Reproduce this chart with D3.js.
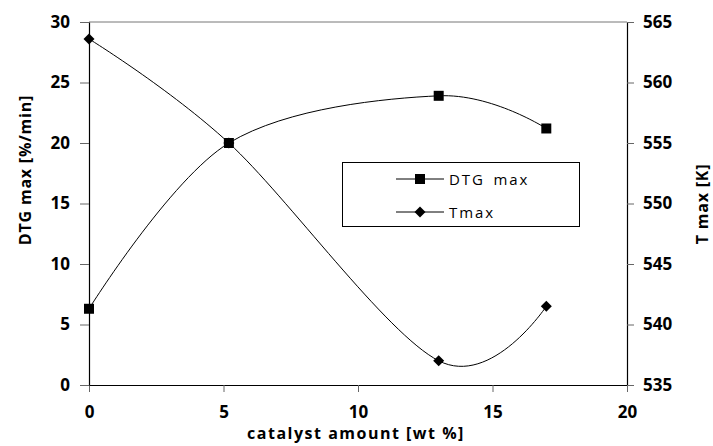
<!DOCTYPE html>
<html><head><meta charset="utf-8">
<script src="https://cdn.jsdelivr.net/npm/d3@7"></script>
<style>body{margin:0;background:#fff}svg{display:block}text{font-family:"Open Sans","Noto Sans",sans-serif}</style>
</head><body><svg id="c" width="713" height="446"></svg>
<script>
const catalyst = [0, 5.2, 13, 17];
const dtgMax = [6.3, 20.0, 23.9, 21.2];
const tMax = [563.6, 555.0, 537.0, 541.5];
const xTicks = [0, 5, 10, 15, 20];
const yLeftTicks = [0, 5, 10, 15, 20, 25, 30];
const yRightTicks = [535, 540, 545, 550, 555, 560, 565];
const seriesNames = ["DTG max", "Tmax"];

const svg = d3.select("#c");
const L = 89, R = 627, T = 22, B = 385;
const x = d3.scaleLinear().domain([0, 20]).range([L, R]);
const yL = d3.scaleLinear().domain([0, 30]).range([B, T]);
const yR = d3.scaleLinear().domain([535, 565]).range([B, T]);

svg.append("line").attr("x1", L).attr("x2", R).attr("y1", T).attr("y2", T).attr("stroke", "#777").attr("stroke-width", 1);

const ax = svg.append("g").attr("transform", `translate(0,${B})`)
  .call(d3.axisBottom(x).tickValues(xTicks).tickSize(7).tickPadding(14).tickSizeOuter(0));
const ayl = svg.append("g").attr("transform", `translate(${L},0)`)
  .call(d3.axisLeft(yL).tickValues(yLeftTicks).tickSize(9).tickPadding(10).tickSizeOuter(0));
const ayr = svg.append("g").attr("transform", `translate(${R},0)`)
  .call(d3.axisRight(yR).tickValues(yRightTicks).tickSize(7).tickPadding(9).tickSizeOuter(0));
[ax, ayl, ayr].forEach(g => {
  g.select(".domain").attr("stroke", "#000").attr("stroke-width", 1.2);
  g.selectAll(".tick line").attr("stroke", "#666");
  g.selectAll(".tick text").attr("font-size", 17).attr("font-weight", 700).attr("fill", "#000")
    .style("font-family", "'Open Sans', sans-serif");
});

const line = (ys, sc) => d3.line().x((d, i) => x(catalyst[i])).y(d => sc(d)).curve(d3.curveCardinal.tension(0))(ys);
svg.append("path").attr("d", line(dtgMax, yL)).attr("fill", "none").attr("stroke", "#000").attr("stroke-width", 1);
svg.append("path").attr("d", line(tMax, yR)).attr("fill", "none").attr("stroke", "#000").attr("stroke-width", 1);

const sq = d3.symbol().type(d3.symbolSquare).size(100);
const diamond = "M0,-5.5L5.5,0L0,5.5L-5.5,0Z";
svg.selectAll(".sq").data(dtgMax).join("path").attr("d", sq)
  .attr("transform", (d, i) => `translate(${x(catalyst[i])},${yL(d)})`).attr("fill", "#000");
svg.selectAll(".di").data(tMax).join("path").attr("d", diamond)
  .attr("transform", (d, i) => `translate(${x(catalyst[i])},${yR(d)})`).attr("fill", "#000");

// legend
const lg = svg.append("g");
lg.append("rect").attr("x", 342.5).attr("y", 162.5).attr("width", 237).attr("height", 64)
  .attr("fill", "#fff").attr("stroke", "#000").attr("stroke-width", 1);
const ly = [179, 212];
seriesNames.forEach((n, i) => {
  lg.append("line").attr("x1", 396).attr("x2", 444).attr("y1", ly[i]).attr("y2", ly[i]).attr("stroke", "#000");
  lg.append("path").attr("d", i === 0 ? sq : diamond).attr("transform", `translate(420,${ly[i]})`).attr("fill", "#000");
  lg.append("text").attr("x", 449).attr("y", ly[i] + 5.5).attr("font-size", 15)
    .attr("letter-spacing", 1.9).attr("word-spacing", 3).text(n);
});

// axis titles
svg.append("text").attr("transform", "translate(31,170) rotate(-90)").attr("text-anchor", "middle")
  .attr("font-size", 16).attr("font-weight", 700).attr("letter-spacing", 0.8).text("DTG max [%/min]");
svg.append("text").attr("transform", "translate(708,204) rotate(-90)").attr("text-anchor", "middle")
  .attr("font-size", 16).attr("font-weight", 700).attr("letter-spacing", 0.8).text("T max [K]");
svg.append("text").attr("x", 356).attr("y", 439).attr("text-anchor", "middle")
  .attr("font-size", 16).attr("font-weight", 700).attr("letter-spacing", 1.5).text("catalyst amount [wt %]");
</script></body></html>
